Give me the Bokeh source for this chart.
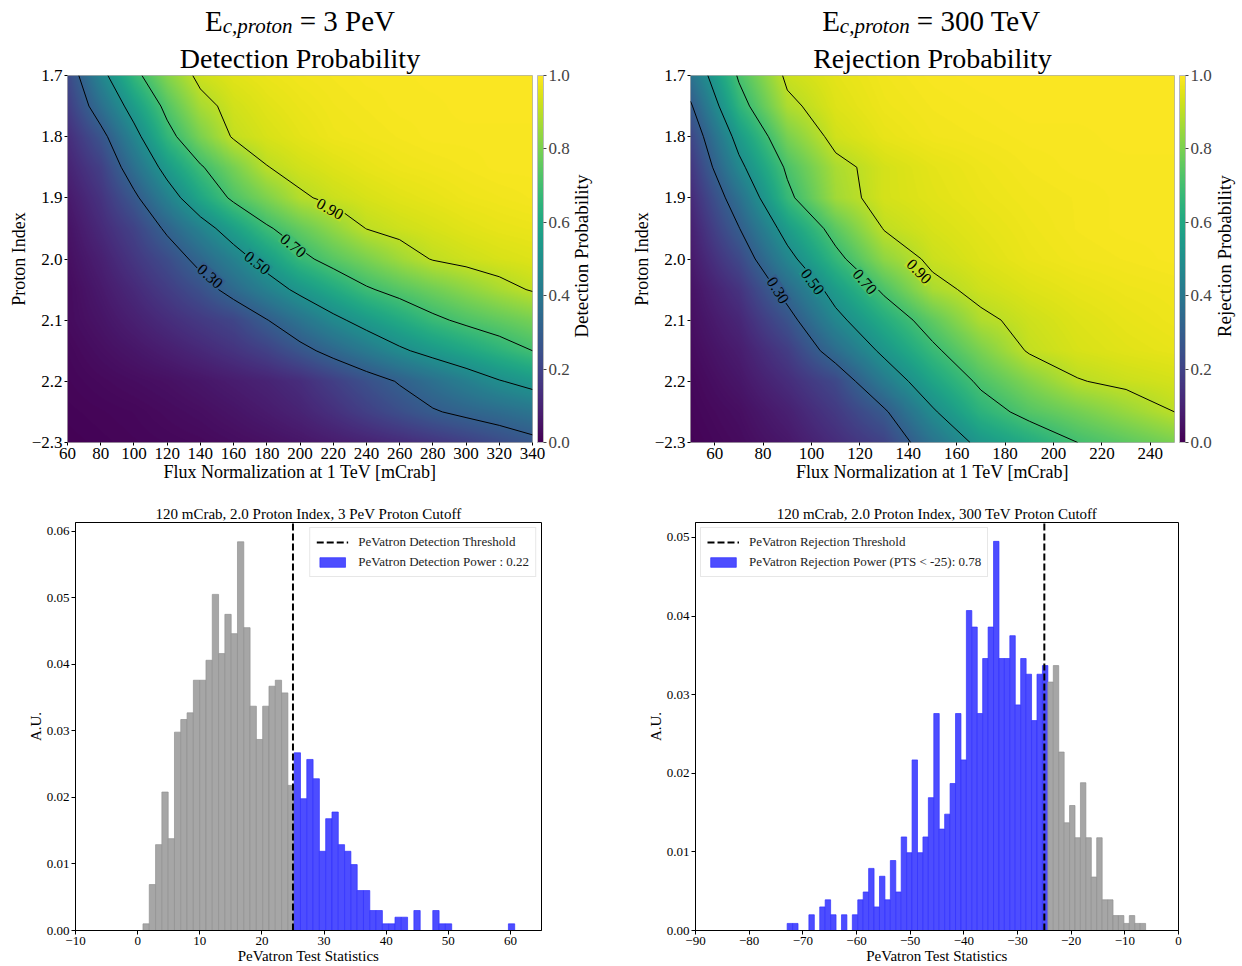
import numpy as np
from bokeh.plotting import figure
from bokeh.layouts import row, column
from bokeh.models import (Range1d, FixedTicker, LinearColorMapper, ColorBar, LinearAxis,
                          NumeralTickFormatter, Legend, LegendItem)
from bokeh.palettes import Viridis256
from bokeh.core.properties import value
from bokeh.embed import file_html
from bokeh.resources import INLINE

FONT = "Liberation Serif"

# ---------------- data: probability maps ----------------
det_flux = [60, 80, 100, 120, 140, 160, 180, 200, 220, 240, 260, 280, 300, 320, 340]
rej_flux = [50, 70, 90, 110, 130, 150, 170, 190, 210, 230, 250]
proton_index = [1.70, 1.75, 1.80, 1.85, 1.90, 1.95, 2.00, 2.05, 2.10, 2.15, 2.20, 2.25, 2.30]

det_prob = [
    [0.22, 0.455, 0.663, 0.816, 0.925, 0.955, 0.97, 0.98, 0.985, 0.99, 0.99, 0.995, 0.995, 0.995, 0.995],
    [0.18, 0.366, 0.554, 0.734, 0.868, 0.93, 0.955, 0.97, 0.98, 0.985, 0.99, 0.99, 0.995, 0.995, 0.995],
    [0.13, 0.26, 0.456, 0.66, 0.80, 0.91, 0.94, 0.96, 0.975, 0.98, 0.985, 0.99, 0.99, 0.99, 0.99],
    [0.10, 0.19, 0.368, 0.545, 0.688, 0.794, 0.897, 0.93, 0.95, 0.965, 0.975, 0.98, 0.985, 0.99, 0.99],
    [0.07, 0.15, 0.275, 0.437, 0.592, 0.723, 0.805, 0.887, 0.92, 0.94, 0.955, 0.965, 0.975, 0.98, 0.985],
    [0.05, 0.12, 0.20, 0.32, 0.443, 0.565, 0.685, 0.763, 0.834, 0.902, 0.925, 0.94, 0.955, 0.965, 0.97],
    [0.04, 0.09, 0.16, 0.235, 0.335, 0.441, 0.552, 0.669, 0.742, 0.799, 0.857, 0.905, 0.925, 0.94, 0.95],
    [0.03, 0.07, 0.12, 0.18, 0.248, 0.343, 0.438, 0.528, 0.608, 0.687, 0.737, 0.782, 0.827, 0.871, 0.907],
    [0.03, 0.055, 0.09, 0.13, 0.17, 0.21, 0.296, 0.384, 0.471, 0.545, 0.611, 0.677, 0.723, 0.758, 0.794],
    [0.02, 0.04, 0.06, 0.085, 0.115, 0.15, 0.195, 0.265, 0.337, 0.409, 0.481, 0.54, 0.593, 0.647, 0.70],
    [0.015, 0.025, 0.035, 0.045, 0.06, 0.08, 0.10, 0.13, 0.187, 0.248, 0.309, 0.37, 0.431, 0.493, 0.54],
    [0.01, 0.015, 0.02, 0.03, 0.04, 0.055, 0.075, 0.10, 0.14, 0.19, 0.24, 0.29, 0.325, 0.355, 0.39],
    [0.005, 0.01, 0.015, 0.02, 0.025, 0.035, 0.045, 0.06, 0.08, 0.10, 0.125, 0.155, 0.19, 0.23, 0.27],
]

rej_prob = [
    [0.38, 0.715, 0.92, 0.96, 0.98, 0.99, 0.995, 0.995, 0.995, 0.995, 0.995],
    [0.285, 0.65, 0.878, 0.95, 0.975, 0.985, 0.99, 0.995, 0.995, 0.995, 0.995],
    [0.21, 0.547, 0.798, 0.93, 0.965, 0.98, 0.985, 0.99, 0.99, 0.995, 0.995],
    [0.16, 0.467, 0.719, 0.873, 0.935, 0.96, 0.975, 0.985, 0.99, 0.99, 0.99],
    [0.12, 0.37, 0.671, 0.86, 0.935, 0.955, 0.97, 0.98, 0.985, 0.99, 0.99],
    [0.09, 0.296, 0.551, 0.749, 0.905, 0.94, 0.96, 0.975, 0.985, 0.99, 0.99],
    [0.07, 0.22, 0.458, 0.665, 0.833, 0.92, 0.95, 0.97, 0.98, 0.985, 0.99],
    [0.05, 0.15, 0.346, 0.552, 0.721, 0.873, 0.925, 0.95, 0.965, 0.975, 0.98],
    [0.04, 0.11, 0.255, 0.464, 0.618, 0.755, 0.882, 0.925, 0.95, 0.965, 0.975],
    [0.03, 0.08, 0.18, 0.356, 0.527, 0.676, 0.80, 0.91, 0.94, 0.955, 0.965],
    [0.02, 0.06, 0.13, 0.221, 0.414, 0.585, 0.722, 0.814, 0.895, 0.92, 0.935],
    [0.015, 0.04, 0.09, 0.17, 0.283, 0.484, 0.645, 0.736, 0.79, 0.845, 0.90],
    [0.01, 0.03, 0.065, 0.13, 0.20, 0.382, 0.534, 0.617, 0.70, 0.75, 0.80],
]

contour_levels = [0.3, 0.5, 0.7, 0.9]
contour_texts = ["0.30", "0.50", "0.70", "0.90"]
det_label_flux = [145.9, 174.3, 196.0, 218.1]
det_label_index = [2.028, 2.006, 1.978, 1.918]
det_label_angle = [-42, -38, -40, -29]
rej_label_flux = [86.2, 100.5, 122.1, 144.5]
rej_label_index = [2.051, 2.037, 2.037, 2.020]
rej_label_angle = [-58, -53, -49, -45]

det_flux_ticks = [60, 80, 100, 120, 140, 160, 180, 200, 220, 240, 260, 280, 300, 320, 340]
rej_flux_ticks = [60, 80, 100, 120, 140, 160, 180, 200, 220, 240]
index_ticks = [1.7, 1.8, 1.9, 2.0, 2.1, 2.2, 2.3]
index_tick_labels = ["1.7", "1.8", "1.9", "2.0", "2.1", "2.2", "\u22122.3"]
prob_ticks = [0.0, 0.2, 0.4, 0.6, 0.8, 1.0]

# ---------------- data: test-statistic histograms ----------------
det_ts_start, det_ts_width = 0.86, 1.014
det_gray = [0.0010, 0.0069, 0.0129, 0.0208, 0.0138, 0.0298, 0.0317, 0.0327, 0.0376, 0.0376,
            0.0406, 0.0505, 0.0416, 0.0475, 0.0446, 0.0584, 0.0455, 0.0337, 0.0287, 0.0337,
            0.0367, 0.0376, 0.0357, 0.0218]
det_blue = [0.0267, 0.0198, 0.0257, 0.0228, 0.0119, 0.0168, 0.0178, 0.0129, 0.0119, 0.0099,
            0.0060, 0.0060, 0.0030, 0.0030, 0.0010, 0.0010, 0.0020, 0.0020, 0.0, 0.0030,
            0.0, 0.0, 0.0030, 0.0010, 0.0010, 0.0, 0.0, 0.0, 0.0, 0.0,
            0.0, 0.0, 0.0, 0.0, 0.0010]
det_threshold = 25
det_power = 0.22
det_ts_ticks = [-10, 0, 10, 20, 30, 40, 50, 60]

rej_ts_start, rej_ts_width = -72.92, 1.012
rej_blue = [0.0009, 0.0009, 0.0, 0.0, 0.0020, 0.0, 0.0030, 0.0039, 0.0020, 0.0,
            0.0020, 0.0, 0.0020, 0.0039, 0.0049, 0.0079, 0.0030, 0.0069, 0.0039, 0.0089,
            0.0049, 0.0119, 0.0099, 0.0217, 0.0099, 0.0119, 0.0169, 0.0276, 0.0129, 0.0148,
            0.0187, 0.0276, 0.0217, 0.0407, 0.0386, 0.0276, 0.0346, 0.0386, 0.0495, 0.0346,
            0.0346, 0.0375, 0.0287, 0.0346, 0.0326, 0.0267, 0.0326, 0.0337]
rej_gray = [0.0316, 0.0337, 0.0227, 0.0137, 0.0159, 0.0118, 0.0188, 0.0118, 0.0068, 0.0118,
            0.0039, 0.0039, 0.0019, 0.0019, 0.0009, 0.0019, 0.0009, 0.0009]
rej_threshold = -25
rej_power = 0.78
rej_ts_ticks = [-90, -80, -70, -60, -50, -40, -30, -20, -10, 0]


# ---------------- helpers ----------------
def upsample(xs, ys, z, nx, ny):
    """Smooth (bilinear) shading of the grid for display."""
    xs = np.asarray(xs, float)
    ys = np.asarray(ys, float)
    xf = np.linspace(xs[0], xs[-1], nx)
    yf = np.linspace(ys[0], ys[-1], ny)
    zx = np.array([np.interp(xf, xs, r) for r in z])
    return np.array([np.interp(yf, ys, zx[:, j]) for j in range(nx)]).T


def minus(t):
    return ("\u2212" + str(abs(t))) if t < 0 else str(t)


def style_axes(p, tick_size, label_size, tick_out=3):
    for ax in p.axis:
        ax.major_label_text_font = FONT
        ax.major_label_text_font_size = tick_size
        ax.major_label_text_color = "black"
        ax.axis_label_text_font = FONT
        ax.axis_label_text_font_size = label_size
        ax.axis_label_text_font_style = "normal"
        ax.axis_label_text_color = "black"
        ax.minor_tick_line_color = None
        ax.major_tick_in = 0
        ax.major_tick_out = tick_out
        ax.major_label_standoff = 2
        ax.axis_label_standoff = 0
    p.grid.visible = False


def blank_fig(width, height):
    f = figure(width=width, height=height, x_range=Range1d(0, width), y_range=Range1d(0, height),
               min_border=0, x_axis_type=None, y_axis_type=None, output_backend="svg",
               toolbar_location=None, title=None)
    f.outline_line_color = None
    f.grid.visible = False
    return f


FRAME_H_TOP = 367
STRIP_H = 38
MAP_TOP = 37
MAP_BOTTOM = 44
MAP_H = MAP_TOP + FRAME_H_TOP + MAP_BOTTOM


def title_strip(width, center_x, energy_text, rest_w):
    s = blank_fig(width, STRIP_H)
    total = 17.7 + 70 + 7 + rest_w
    x0 = center_x - total / 2
    s.text(x=[x0], y=[18.0], text=["E"], text_font=value(FONT), text_font_size="29px",
           text_baseline="middle", text_color="black")
    s.text(x=[x0 + 17.7], y=[12.5], text=["c,proton"], text_font=value(FONT),
           text_font_size="21px", text_font_style="italic", text_baseline="middle",
           text_color="black")
    s.text(x=[x0 + 17.7 + 70 + 7], y=[18.0], text=["= " + energy_text], text_font=value(FONT),
           text_font_size="29px", text_baseline="middle", text_color="black")
    return s


def side_label(width, text, cx):
    f = blank_fig(width, MAP_H)
    f.text(x=[cx], y=[MAP_BOTTOM + FRAME_H_TOP / 2], text=[text], angle=[90], angle_units="deg",
           text_align="center", text_baseline="middle", text_font=value(FONT),
           text_font_size="19px", text_color="black")
    return f


def map_panel(flux, grid, xticks, frame_w, lb, rb, title2, lab_x, lab_y, lab_ang):
    z = np.array(grid, dtype=float)
    p = figure(frame_width=frame_w, frame_height=FRAME_H_TOP,
               x_range=Range1d(flux[0], flux[-1]),
               y_range=Range1d(proton_index[-1], proton_index[0]),
               min_border_left=lb, min_border_right=rb, min_border_top=MAP_TOP,
               min_border_bottom=MAP_BOTTOM,
               output_backend="svg", toolbar_location=None, title=title2)
    p.title.align = "center"
    p.title.text_font = FONT
    p.title.text_font_size = "28px"
    p.title.text_font_style = "normal"
    p.title.text_color = "black"
    p.title.standoff = 3

    mapper = LinearColorMapper(palette=Viridis256, low=0, high=1)
    fine = upsample(flux, proton_index, z, frame_w, FRAME_H_TOP)
    p.image(image=[fine], x=flux[0], y=proton_index[0],
            dw=flux[-1] - flux[0], dh=proton_index[-1] - proton_index[0], color_mapper=mapper)
    p.contour(x=np.array(flux, float), y=np.array(proton_index, float), z=z,
              levels=contour_levels, line_color="black", line_width=1)
    bg = [Viridis256[int(round(l * 255))] for l in contour_levels]
    p.text(x=lab_x, y=lab_y, text=contour_texts, angle=lab_ang, angle_units="deg",
           text_align="center", text_baseline="middle", text_font=value(FONT),
           text_font_size="16px", text_color="black", background_fill_color=bg, padding=1)

    p.xaxis.ticker = FixedTicker(ticks=xticks)
    p.yaxis.ticker = FixedTicker(ticks=index_ticks)
    p.yaxis.major_label_overrides = dict(zip(index_ticks, index_tick_labels))
    p.xaxis.axis_label = "Flux Normalization at 1 TeV [mCrab]"
    p.yaxis.axis_label = "Proton Index"
    style_axes(p, "17px", "18px")
    p.axis.axis_line_color = None
    p.outline_line_color = "#b0b0b0"

    # small gap between the map and its colour bar
    gap = LinearAxis(ticker=FixedTicker(ticks=[2.0]), major_label_text_font_size="1px",
                     major_label_text_alpha=0, major_label_standoff=0, major_tick_in=0,
                     major_tick_out=5, major_tick_line_color=None, minor_tick_line_color=None,
                     axis_line_color=None)
    p.add_layout(gap, "right")
    cb = ColorBar(color_mapper=mapper, ticker=FixedTicker(ticks=prob_ticks),
                  formatter=NumeralTickFormatter(format="0.0"),
                  width=6, margin=0, padding=0,
                  major_label_text_font=FONT, major_label_text_font_size="17px",
                  major_tick_in=0, major_tick_out=3, major_tick_line_color="#444444",
                  bar_line_color="#bbbbbb", border_line_color=None,
                  background_fill_color=None, label_standoff=2)
    p.add_layout(cb, "right")
    return p


FRAME_H_BOT = 408


def bars(p, start, width, heights, offset, fill, line):
    h = np.asarray(heights, float)
    k = np.arange(len(h)) + offset
    m = h > 0
    left = start + width * k[m]
    return p.quad(left=left, right=left + width, bottom=0, top=h[m],
                  fill_color=fill, line_color=line, line_width=0.7)


def hist_panel(title, xr, ytop, xticks, frame_w, lb, rb):
    p = figure(frame_width=frame_w, frame_height=FRAME_H_BOT, x_range=Range1d(*xr),
               y_range=Range1d(0, ytop), min_border_left=lb, min_border_right=rb,
               min_border_top=36, min_border_bottom=36,
               output_backend="svg", toolbar_location=None, title=title)
    p.title.align = "center"
    p.title.text_font = FONT
    p.title.text_font_size = "15px"
    p.title.text_font_style = "normal"
    p.title.text_color = "black"
    p.title.standoff = 2
    p.xaxis.ticker = FixedTicker(ticks=xticks)
    p.xaxis.major_label_overrides = {t: minus(t) for t in xticks}
    p.yaxis.formatter = NumeralTickFormatter(format="0.00")
    p.xaxis.axis_label = "PeVatron Test Statistics"
    p.yaxis.axis_label = "A.U."
    style_axes(p, "13px", "15px", tick_out=4)
    p.axis.axis_line_color = "black"
    p.outline_line_color = "black"
    p.yaxis.ticker = FixedTicker(ticks=[0.0, 0.01, 0.02, 0.03, 0.04, 0.05, 0.06])
    return p


def add_legend(p, thr_r, blue_r, thr_text, power_text, loc):
    leg = Legend(items=[LegendItem(label=thr_text, renderers=[thr_r]),
                        LegendItem(label=power_text, renderers=[blue_r])],
                 location=loc, label_text_font=FONT, label_text_font_size="13px",
                 label_text_color="#222222", glyph_width=32, glyph_height=12,
                 label_height=14, spacing=4, padding=6, margin=5, label_standoff=10,
                 border_line_color="#d0d0d0", background_fill_alpha=0.8)
    p.add_layout(leg)


GRAY_FILL, GRAY_LINE = "#a6a6a6", "#909090"
BLUE_FILL, BLUE_LINE = "#4d4dff", "#3030ff"

# ---------------- top: titles + maps ----------------
s1 = title_strip(615, 67 + 465 / 2, "3 PeV", 95.3)
s2 = title_strip(627, 75 + 484 / 2, "300 TeV", 126)
p1 = map_panel(det_flux, det_prob, det_flux_ticks, 465, 67, 40, "Detection Probability",
               det_label_flux, det_label_index, det_label_angle)
l1 = side_label(43, "Detection Probability", 9)
p2 = map_panel(rej_flux, rej_prob, rej_flux_ticks, 484, 75, 40, "Rejection Probability",
               rej_label_flux, rej_label_index, rej_label_angle)
l2 = side_label(28, "Rejection Probability", 10)

# ---------------- bottom histograms ----------------
det_ytop = 0.0613
p3 = hist_panel("120 mCrab, 2.0 Proton Index, 3 PeV Proton Cutoff", (-10, 65), det_ytop,
                det_ts_ticks, 466, 75, 74)
bars(p3, det_ts_start, det_ts_width, det_gray, 0, GRAY_FILL, GRAY_LINE)
b3 = bars(p3, det_ts_start, det_ts_width, det_blue, len(det_gray), BLUE_FILL, BLUE_LINE)
t3 = p3.segment(x0=[det_threshold], y0=[0], x1=[det_threshold], y1=[det_ytop],
                line_color="black", line_dash="7 3", line_width=2)
add_legend(p3, t3, b3, "PeVatron Detection Threshold",
           "PeVatron Detection Power : %.2f" % det_power, "top_right")

rej_ytop = 0.0519
p4 = hist_panel("120 mCrab, 2.0 Proton Index, 300 TeV Proton Cutoff", (-90, 0), rej_ytop,
                rej_ts_ticks, 483, 80, 64)
b4 = bars(p4, rej_ts_start, rej_ts_width, rej_blue, 0, BLUE_FILL, BLUE_LINE)
bars(p4, rej_ts_start, rej_ts_width, rej_gray, len(rej_blue), GRAY_FILL, GRAY_LINE)
t4 = p4.segment(x0=[rej_threshold], y0=[0], x1=[rej_threshold], y1=[rej_ytop],
                line_color="black", line_dash="7 3", line_width=2)
add_legend(p4, t4, b4, "PeVatron Rejection Threshold",
           "PeVatron Rejection Power (PTS < %d): %.2f" % (rej_threshold, rej_power), "top_left")

layout = column(row(s1, s2), row(p1, l1, p2, l2), row(p3, p4))
open("out.html", "w").write(file_html(layout, INLINE))
